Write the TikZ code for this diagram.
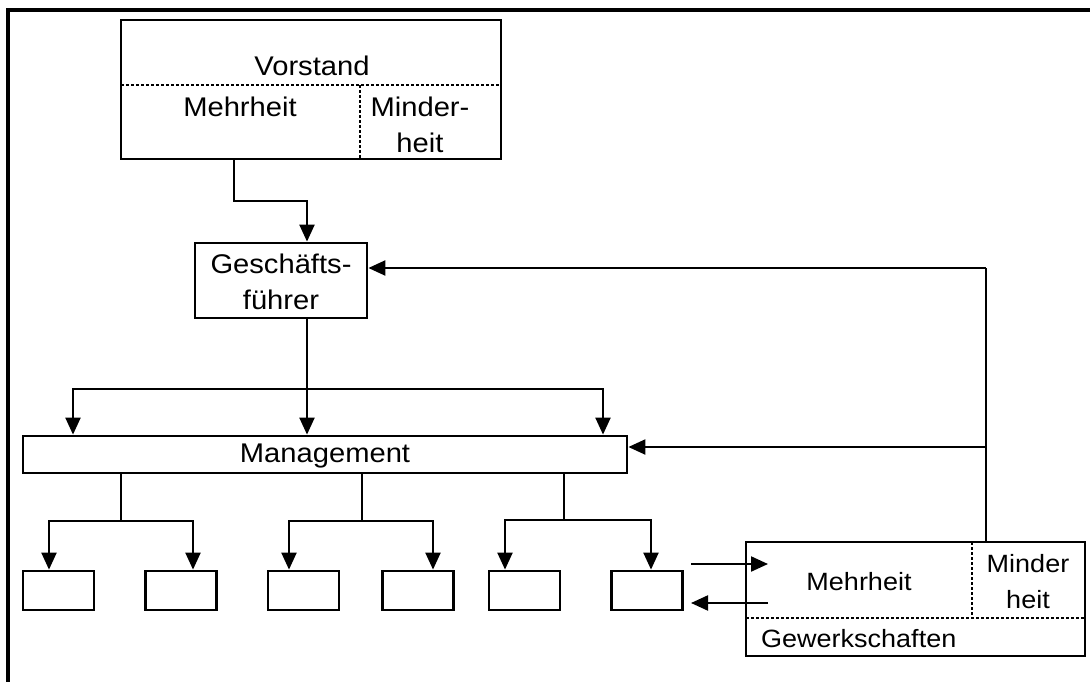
\documentclass[tikz,border=0pt]{standalone}
\usepackage{fontspec}
\setmainfont{Liberation Sans}[FakeStretch=1.08]
\usepackage{tikz}
\usetikzlibrary{arrows.meta,calc}

\begin{document}
\begin{tikzpicture}[x=1pt,y=-1pt,font=\fontsize{27}{36}\selectfont]
        \tikzstyle{box} = [draw,line width=2.8pt,inner sep=0pt]
        \tikzstyle{unit} = [box,minimum width=71pt,minimum height=39pt]
        \tikzstyle{txt} = [inner sep=0pt,align=center]
        \tikzstyle{small} = [txt,font=\fontsize{25}{36}\selectfont]
        \tikzstyle{line} = [line width=2.2pt]
        \tikzstyle{link} = [line,-{Triangle[length=17pt,width=15pt]}]
        \tikzstyle{divide} = [line width=1.6pt,dash pattern=on 3pt off 2pt]
        \useasboundingbox (0,0) rectangle (1090,682);
        %
        % Frame.
        \draw[line width=3.5pt] (8,682) -- (8,10) -- (1090,10);
        % Vorstand.
        \node[box,minimum width=380pt,minimum height=139pt] (vorstand) at (311,89.5) {};
        \draw[divide] (121,85) -- (501,85) (360,85) -- (360,159);
        \node[txt] (vtitle) at (312,66) {Vorstand};
        \node[txt] (vmehr) at (240,107) {Mehrheit};
        \node[txt] (vminder) at (420,125) {Minder-\\heit};
        % Geschaeftsfuehrer and management.
        \node[box,minimum width=172pt,minimum height=75pt] (gf) at (281,280.5) {};
        \node[txt] (gftext) at (281,281.5) {Geschäfts-\\führer};
        \node[box,minimum width=604pt,minimum height=37pt] (mgmt) at (325,454.5) {};
        \node[txt] (mgmttext) at (325,456) {Management};
        % Units.
        \foreach \i/\x in {1/58.5,2/181,3/303.5,4/418,5/524.5,6/647}
            \node[unit] (b\i) at (\x,590.5) {};
        % Gewerkschaften.
        \node[box,minimum width=339pt,minimum height=114pt] (gew) at (915.5,599) {};
        \draw[divide] (746,618) -- (1085,618) (972,542) -- (972,618);
        \node[small] (gmehr) at (859,582) {Mehrheit};
        \node[small] (gminder) at (1028,582) {Minder\\heit};
        \node[small,anchor=west] (gtext) at (761,639) {Gewerkschaften};
        %
        % Lines.
        \draw[link] ($(vorstand.south)+(-77,0)$) |- ($(gf.north)+(26,-41)$) -- ($(gf.north)+(26,0)$);
        \coordinate (split) at (307,389);
        \draw[line] ($(gf.south)+(26,0)$) -- (split);
        \draw[link] (split) -| (mgmt.north -| 73,0);
        \draw[link] (split) -- (mgmt.north -| split);
        \draw[link] (split) -| (mgmt.north -| 603,0);
        \coordinate (tap) at (986,268);
        \coordinate (tapm) at (986,447);
        \draw[line] (gew.north -| tap) -- (tap);
        \draw[link] (tap) -- (tap -| gf.east);
        \draw[link] (tapm) -- (tapm -| mgmt.east);
        \coordinate (d1) at (121,521);
        \coordinate (d2) at (362,521);
        \coordinate (d3) at (564,520);
        \draw[line] (mgmt.south -| d1) -- (d1) (mgmt.south -| d2) -- (d2) (mgmt.south -| d3) -- (d3);
        \draw[link] (d1) -| (b1.north -| 49,0);
        \draw[link] (d1) -| (b2.north -| 193,0);
        \draw[link] (d2) -| (b3.north -| 289,0);
        \draw[link] (d2) -| (b4.north -| 433,0);
        \draw[link] (d3) -| (b5.north -| 505,0);
        \draw[link] (d3) -| (b6.north -| 651,0);
        \coordinate (out1) at (691,564);
        \coordinate (in1) at (768,564);
        \coordinate (out2) at (768,603);
        \coordinate (in2) at (691,603);
        \draw[link] (out1) -- (in1);
        \draw[link] (out2) -- (in2);
        %
\end{tikzpicture}
\end{document}
